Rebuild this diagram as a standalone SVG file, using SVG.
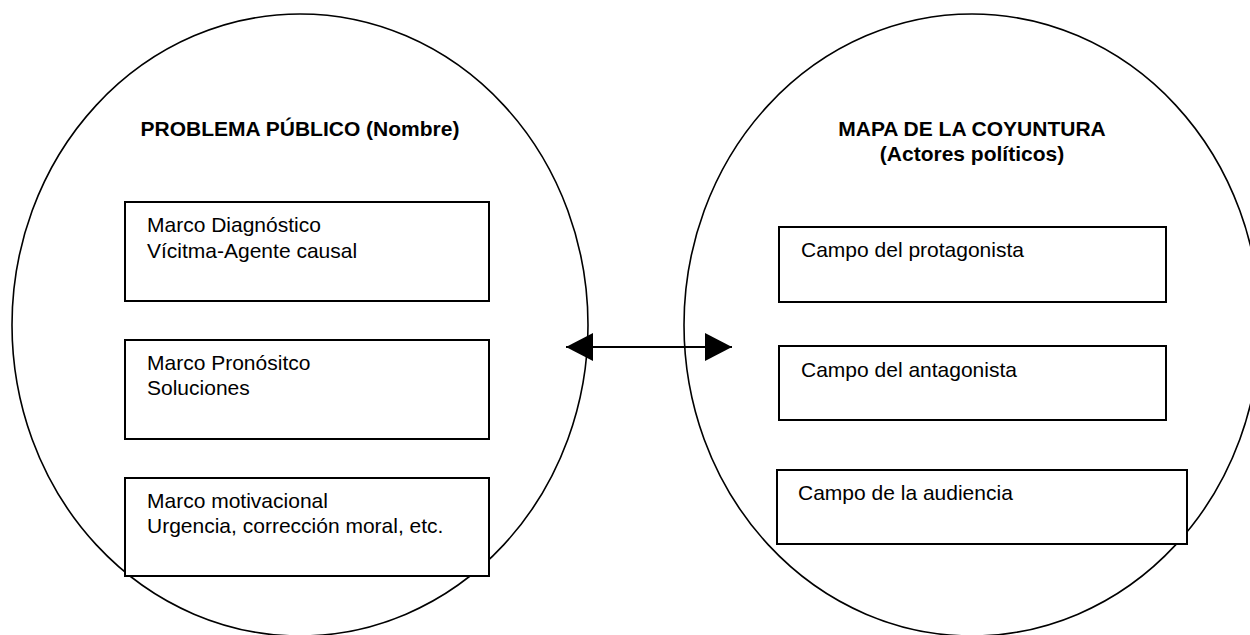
<svg xmlns="http://www.w3.org/2000/svg" width="1250" height="635" viewBox="0 0 1250 635">
<style>
.ell{fill:none;stroke:#000;stroke-width:1.6}
.box{fill:#fff;stroke:#000;stroke-width:2}
.t{font-family:"Liberation Sans",Arial,sans-serif;font-size:21px;fill:#000}
.title{font-family:"Liberation Sans",Arial,sans-serif;font-size:21px;font-weight:bold;fill:#000;text-anchor:middle}
.conn{stroke:#000;stroke-width:2;fill:none}
</style>
<defs>
<marker id="ah" viewBox="0 0 27 28" refX="27" refY="14" markerWidth="27" markerHeight="28" markerUnits="userSpaceOnUse" orient="auto-start-reverse">
<path d="M0,0 L27,14 L0,28 Z" fill="#000"/>
</marker>
</defs>
<rect width="1250" height="635" fill="#fff"/>
<g id="left">
<ellipse class="ell" cx="300" cy="325" rx="288" ry="311"/>
<text class="title" x="300" y="136">PROBLEMA PÚBLICO (Nombre)</text>
</g>
<g id="right">
<ellipse class="ell" cx="972" cy="325" rx="288" ry="311"/>
<text class="title" x="972" y="136">MAPA DE LA COYUNTURA</text>
<text class="title" x="972" y="161">(Actores políticos)</text>
</g>
<g id="diagnostico">
<rect class="box" x="125" y="202" width="364" height="99"/>
<text class="t" x="147" y="232">Marco Diagnóstico</text>
<text class="t" x="147" y="258">Vícitma-Agente causal</text>
</g>
<g id="pronostico">
<rect class="box" x="125" y="340" width="364" height="99"/>
<text class="t" x="147" y="370">Marco Pronósitco</text>
<text class="t" x="147" y="395">Soluciones</text>
</g>
<g id="motivacional">
<rect class="box" x="125" y="478" width="364" height="98"/>
<text class="t" x="147" y="508">Marco motivacional</text>
<text class="t" x="147" y="533">Urgencia, corrección moral, etc.</text>
</g>
<g id="protagonista">
<rect class="box" x="779" y="227" width="387" height="75"/>
<text class="t" x="801" y="257">Campo del protagonista</text>
</g>
<g id="antagonista">
<rect class="box" x="779" y="346" width="387" height="74"/>
<text class="t" x="801" y="377">Campo del antagonista</text>
</g>
<g id="audiencia">
<rect class="box" x="777" y="470" width="410" height="74"/>
<text class="t" x="798" y="500">Campo de la audiencia</text>
</g>
<g id="connectors">
<line class="conn" x1="566" y1="347" x2="732" y2="347" marker-start="url(#ah)" marker-end="url(#ah)"/>
</g>
</svg>
